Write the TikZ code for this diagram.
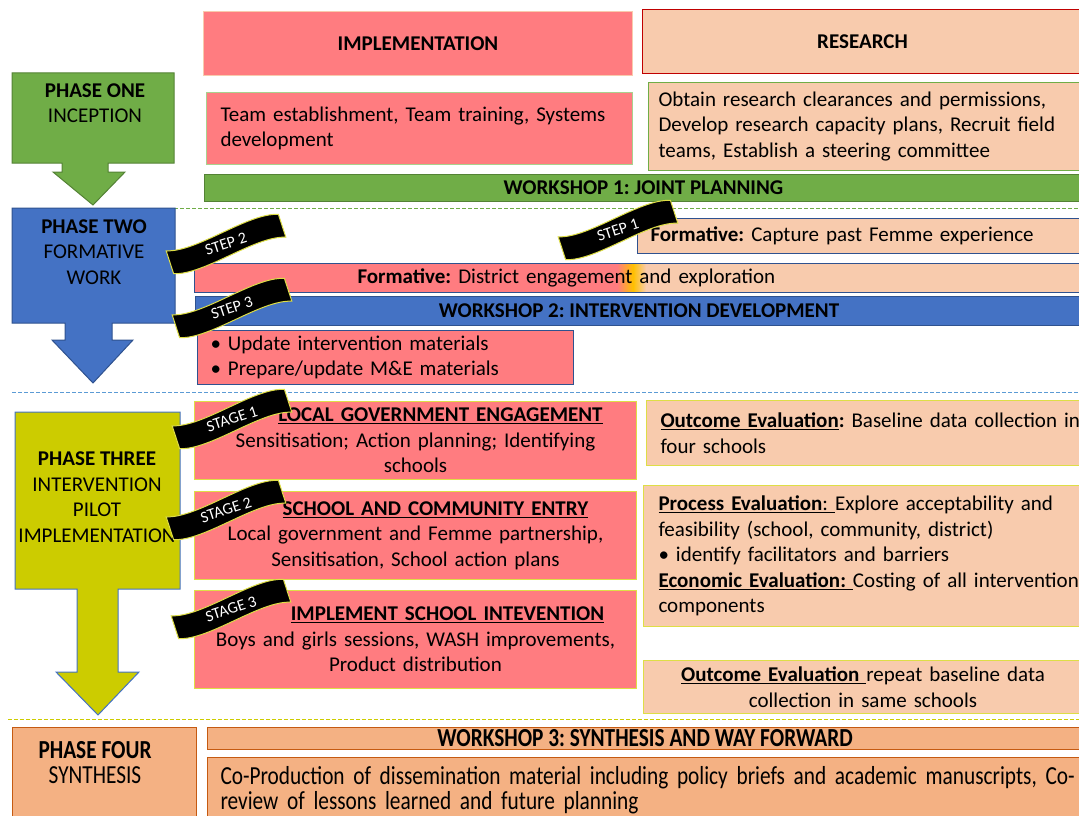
\documentclass[tikz,border=0pt]{standalone}
\usepackage{fontspec}
\setmainfont{Carlito}
\newfontfamily\narrowfont{Carlito}[FakeStretch=0.82]
\newcommand{\bodysize}{\fontsize{21}{25.5}\selectfont}
\newcommand{\narrowsize}{\narrowfont\fontsize{26}{25}\selectfont}
\frenchspacing
\definecolor{salmon}{RGB}{255,124,128}
\definecolor{peach}{RGB}{248,203,173}
\definecolor{leaf}{RGB}{112,173,71}
\definecolor{leafdark}{RGB}{84,130,53}
\definecolor{leaflight}{RGB}{169,209,142}
\definecolor{royal}{RGB}{68,114,196}
\definecolor{navy}{RGB}{47,82,143}
\definecolor{olive}{RGB}{204,204,0}
\definecolor{lemon}{RGB}{222,222,70}
\definecolor{apricot}{RGB}{244,177,131}
\definecolor{rust}{RGB}{197,90,17}
\definecolor{crimson}{RGB}{192,0,0}
\definecolor{sky}{RGB}{91,155,213}
\definecolor{amber}{RGB}{255,192,0}
\tikzstyle{cell} = [rectangle, inner sep=0pt, anchor=north west, line width=1pt, font=\bodysize]
\tikzstyle{impl} = [cell, fill=salmon]
\tikzstyle{res} = [cell, fill=peach]
\tikzstyle{phase} = [line width=1pt]
\tikzstyle{phasetext} = [align=center, inner sep=0pt, font=\bodysize]
\tikzstyle{sep} = [dash pattern=on 4pt off 2pt, line width=0.9pt]
\tikzstyle{ribbon} = [fill=black, draw=lemon, line width=1pt]
\tikzstyle{ribbontext} = [text=white, inner sep=0pt, transform shape, font=\fontsize{16}{16}\selectfont]
\newcommand{\ribbon}[3]{%
  \begin{scope}[shift={#2}, rotate=18]
    \draw[ribbon] (-59,-12) .. controls (-30,-1) and (30,-23) .. (59,-12) -- (59,12) .. controls (30,1) and (-30,23) .. (-59,12) -- cycle;
    \node[ribbontext] (#1) at (0,0) {#3};
  \end{scope}}

\begin{document}
\begin{tikzpicture}[x=1pt, y=-1pt]
        \useasboundingbox (0,0) rectangle (1079,816);
        % separators
        \draw[sep, leaf] (12,208) -- (1079,208);
        \draw[sep, sky] (12,392) -- (1079,392);
        \draw[sep, olive] (8,719) -- (1079,719);
        % phase arrows
        \draw[phase, fill=leaf, draw=leafdark] (12,73) -- (174,73) -- (174,163) -- (108,163) -- (108,172) -- (125,172) -- (93,205) -- (53,172) -- (62,172) -- (62,163) -- (12,163) -- cycle;
        \draw[phase, fill=royal, draw=navy] (12,208) -- (175,208) -- (175,323) -- (112,323) -- (112,340) -- (133,340) -- (93,383) -- (52,340) -- (65,340) -- (65,323) -- (12,323) -- cycle;
        \draw[phase, fill=olive, draw=royal] (15,412) -- (180,412) -- (180,589) -- (118,589) -- (118,672) -- (139,672) -- (98,715) -- (56,672) -- (77,672) -- (77,589) -- (15,589) -- cycle;
        \node[phasetext](p1) at (95,103){\textbf{PHASE ONE}\\INCEPTION};
        \node[phasetext](p2) at (94,252){\textbf{PHASE TWO}\\FORMATIVE\\WORK};
        \node[phasetext](p3) at (97,497){\textbf{PHASE THREE}\\INTERVENTION\\PILOT\\IMPLEMENTATION};
        % headings
        \node[impl, draw=peach, minimum width=429pt, minimum height=64pt](implhead) at (203,11){\textbf{IMPLEMENTATION}};
        \node[res, draw=crimson, minimum width=440pt, minimum height=64pt](reshead) at (642,9){\textbf{RESEARCH}};
        % phase one
        \node[impl, draw=leaflight, text width=398pt, inner xsep=14pt, minimum height=72pt, align=left](team) at (206,92){Team establishment, Team training, Systems\\development};
        \node[res, draw=leaf, text width=442pt, inner xsep=10pt, minimum height=88pt, align=left](obtain) at (648,82){Obtain research clearances and permissions,\\Develop research capacity plans, Recruit field\\teams, Establish a steering committee};
        \node[cell, fill=leaf, draw=leafdark, minimum width=878pt, minimum height=27pt](ws1) at (204,174){\textbf{WORKSHOP 1: JOINT PLANNING}};
        % phase two
        \node[res, draw=navy, text width=447pt, inner xsep=13pt, minimum height=35pt, align=left](step1box) at (637,218){\textbf{Formative:} Capture past Femme experience};
        \fill[salmon] (194,263) rectangle (617,292);
        \shade[left color=salmon, right color=amber] (617,263) rectangle (633,292);
        \shade[left color=amber, right color=peach] (633,263) rectangle (646,292);
        \fill[peach] (646,263) rectangle (1082,292);
        \node[cell, draw=navy, text width=562pt, inner xsep=163pt, minimum height=29pt, align=left](district) at (194,263){\textbf{Formative:} District engagement and exploration};
        \node[cell, fill=royal, draw=navy, minimum width=887pt, minimum height=29pt](ws2) at (195,296){\textbf{WORKSHOP 2: INTERVENTION DEVELOPMENT}};
        \node[impl, draw=navy, text width=350pt, inner xsep=13pt, minimum height=54pt, align=left](update) at (197,330){\textbullet{} Update intervention materials\\\textbullet{} Prepare/update M\&E materials};
        % phase three
        \node[impl, draw=lemon, text width=442pt, minimum height=78pt, align=center](stage1box) at (194,401){\hspace*{50pt}\underline{\textbf{LOCAL GOVERNMENT ENGAGEMENT}}\\Sensitisation; Action planning; Identifying\\schools};
        \node[impl, draw=lemon, text width=442pt, minimum height=88pt, align=center](stage2box) at (194,491){\hspace*{40pt}\underline{\textbf{SCHOOL AND COMMUNITY ENTRY}}\\Local government and Femme partnership,\\Sensitisation, School action plans};
        \node[impl, draw=lemon, text width=442pt, minimum height=98pt, align=center](stage3box) at (194,590){\hspace*{64pt}\underline{\textbf{IMPLEMENT SCHOOL INTEVENTION}}\\Boys and girls sessions, WASH improvements,\\Product distribution};
        \node[res, draw=lemon, text width=436pt, inner xsep=14pt, minimum height=65pt, align=left](outcome1) at (646,400){\underline{\textbf{Outcome Evaluation}}\textbf{:} Baseline data collection in\\four schools};
        \node[res, draw=lemon, text width=437pt, inner xsep=15pt, minimum height=141pt, align=left](process) at (643,485){\underline{\textbf{Process Evaluation}: }Explore acceptability and\\feasibility (school, community, district)\\\textbullet{} identify facilitators and barriers\\\underline{\textbf{Economic Evaluation: }}Costing of all intervention\\components};
        \node[res, draw=lemon, text width=439pt, minimum height=53pt, align=center](outcome2) at (643,660){\underline{\textbf{Outcome Evaluation }}repeat baseline data\\collection in same schools};
        % phase four
        \node[cell, fill=apricot, draw=rust, minimum width=184pt, minimum height=95pt](phasefour) at (12,727){};
        \node[phasetext, font=\narrowsize](p4) at (95,763){\textbf{PHASE FOUR}\\SYNTHESIS};
        \node[cell, fill=apricot, draw=rust, minimum width=875pt, minimum height=22pt, text height=19pt, text depth=3pt, font=\narrowsize](ws3) at (207,727){\textbf{WORKSHOP 3: SYNTHESIS AND WAY FORWARD}};
        \node[cell, fill=apricot, draw=rust, text width=880pt, inner xsep=13pt, minimum height=65pt, align=left, font=\narrowsize](coprod) at (207,757){Co-Production of dissemination material including policy briefs and academic manuscripts, Co-\\review of lessons learned and future planning};
        % ribbons
        \ribbon{step1}{(618,230)}{STEP 1}
        \ribbon{step2}{(226,244)}{STEP 2}
        \ribbon{step3}{(232,308)}{STEP 3}
        \ribbon{stage1}{(232,419)}{STAGE 1}
        \ribbon{stage2}{(226,510)}{STAGE 2}
        \ribbon{stage3}{(231,609)}{STAGE 3}
      \end{tikzpicture}
\end{document}
